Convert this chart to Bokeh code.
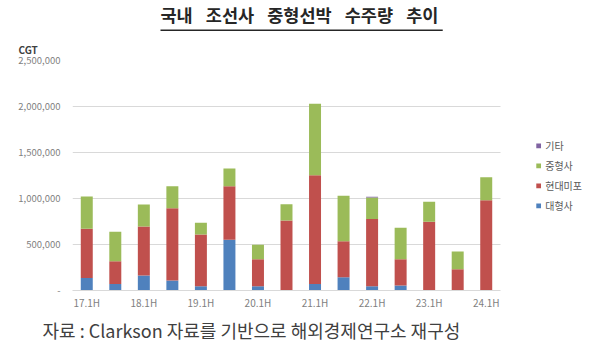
from bokeh.plotting import figure
from bokeh.models import (Range1d, FixedTicker, NumeralTickFormatter, Legend, LegendItem, Title)
from bokeh.embed import file_html
from bokeh.resources import INLINE

periods = ["17.1H", "17.2H", "18.1H", "18.2H", "19.1H", "19.2H", "20.1H", "20.2H",
           "21.1H", "21.2H", "22.1H", "22.2H", "23.1H", "23.2H", "24.1H"]
series = ["대형사", "현대미포", "중형사", "기타"]
large = [137000, 72000, 163000, 109000, 47000, 551000, 47000, 0, 72000, 145000, 47000, 54000, 0, 0, 0]
mipo = [533000, 246000, 533000, 786000, 562000, 583000, 293000, 761000, 1181000, 391000, 730000, 286000, 747000, 232000, 980000]
medium = [352000, 320000, 239000, 239000, 127000, 192000, 157000, 177000, 776000, 493000, 233000, 341000, 217000, 192000, 250000]
other = [0, 0, 0, 0, 0, 0, 0, 0, 0, 0, 10000, 0, 0, 0, 0]
y_ticks = [0, 500000, 1000000, 1500000, 2000000, 2500000]
colors = ["#4f81bd", "#c0504d", "#9bbb59", "#8064a2"]
title_words = ["국내", "조선사", "중형선박", "수주량", "추이"]
source_text = "자료 : Clarkson 자료를 기반으로 해외경제연구소 재구성"

FONT = "Noto Sans CJK KR"

idx = list(range(len(periods)))
data = {"x": idx, "대형사": large, "현대미포": mipo, "중형사": medium, "기타": other}
x_tick_pos = idx[::2]
x_tick_labels = {i: periods[i] for i in x_tick_pos}
x_lo, x_hi = -0.5, len(periods) - 0.5
legend_room = 2.944  # extra category widths to the right of the bars for the legend

p = figure(width=584, height=347, x_range=Range1d(x_lo, x_hi + legend_room), y_range=Range1d(0, 2500000),
           output_backend="svg", toolbar_location=None,
           min_border_left=72, min_border_right=0, min_border_top=60, min_border_bottom=57)
p.outline_line_color = None
p.background_fill_color = "white"

p.xgrid.grid_line_color = None
p.ygrid.ticker = FixedTicker(ticks=y_ticks)
try:
    p.ygrid.cross_bounds = (x_lo, x_hi)
    p.ygrid.grid_line_color = "#d9d9d9"
except Exception:
    p.ygrid.grid_line_color = None
    p.segment(x0=[x_lo] * len(y_ticks), x1=[x_hi] * len(y_ticks), y0=y_ticks, y1=y_ticks,
              line_color="#d9d9d9", line_width=1)

rs = p.vbar_stack(series, x="x", width=0.42, color=colors, source=data, line_color=None)

p.yaxis.ticker = FixedTicker(ticks=y_ticks)
p.yaxis.formatter = NumeralTickFormatter(format="0,0")
p.yaxis.major_label_overrides = {0: "-"}
p.yaxis.axis_line_color = None
p.yaxis.major_tick_line_color = None
p.yaxis.minor_tick_line_color = None
p.yaxis.major_tick_out = 0
p.yaxis.major_tick_in = 0
p.yaxis.major_label_standoff = 12
p.yaxis.major_label_text_font = FONT
p.yaxis.major_label_text_font_size = "9.5px"
p.yaxis.major_label_text_color = "#7f7f7f"

p.xaxis.ticker = FixedTicker(ticks=x_tick_pos)
p.xaxis.major_label_overrides = x_tick_labels
p.xaxis.bounds = (x_lo, x_hi)
p.xaxis.axis_line_color = "#d9d9d9"
p.xaxis.major_tick_line_color = None
p.xaxis.minor_tick_line_color = None
p.xaxis.major_tick_out = 0
p.xaxis.major_tick_in = 0
p.xaxis.major_label_standoff = 4
p.xaxis.major_label_text_font = FONT
p.xaxis.major_label_text_font_size = "10px"
p.xaxis.major_label_text_color = "#7f7f7f"

items = [LegendItem(label=series[i], renderers=[rs[i]]) for i in [3, 2, 1, 0]]
legend = Legend(items=items, location="center_right", padding=0, margin=2,
                glyph_width=6, glyph_height=6, label_height=13, spacing=5, label_standoff=4,
                label_text_font=FONT, label_text_font_size="10px", label_text_color="#595959",
                border_line_color=None, background_fill_alpha=0)
p.add_layout(legend)

# above panels: nearest to frame first
p.add_layout(Title(text="CGT", align="left", offset=-54, standoff=7, text_font=FONT,
                   text_font_size="10px", text_font_style="bold", text_color="#404040"), "above")
underline = Title(text=" ", align="left", offset=88, standoff=11, text_font=FONT,
                  text_font_size="1px", text_color="#262626")
try:
    underline.padding = (141, 0)
    underline.background_fill_color = "#262626"
except Exception:
    underline.text = "─" * 16
    underline.text_font_size = "17.5px"
p.add_layout(underline, "above")
main_title = Title(text="\u2002\u2005".join(title_words), align="left", offset=88, standoff=0,
                   text_font=FONT, text_font_size="17.5px", text_font_style="bold",
                   text_color="#262626")
try:
    main_title.standoff = -8
except Exception:
    pass
p.add_layout(main_title, "above")

p.add_layout(Title(text=source_text, align="left", offset=-30,
                   standoff=4, text_font=FONT, text_font_size="18px", text_font_style="normal",
                   text_color="#404040"), "below")

open("out.html", "w").write(file_html(p, INLINE))
